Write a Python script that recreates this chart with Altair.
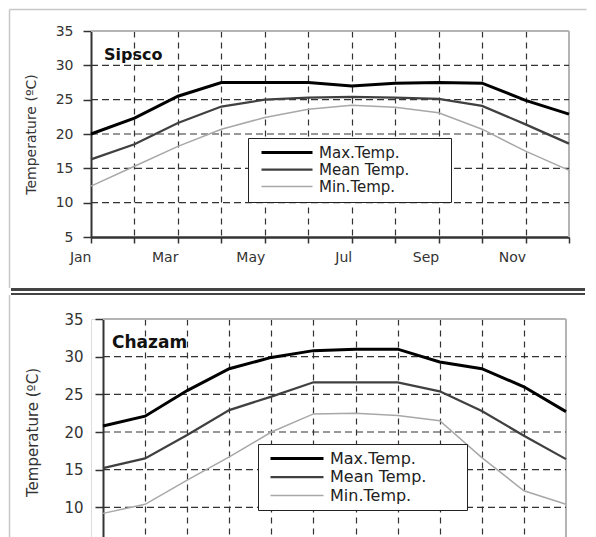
import altair as alt
import pandas as pd

months = ["Jan", "Feb", "Mar", "Apr", "May", "Jun", "Jul", "Aug", "Sep", "Oct", "Nov", "Dec"]
series = ["Max.Temp.", "Mean Temp.", "Min.Temp."]
y_ticks = [5, 10, 15, 20, 25, 30, 35]

sipsco_max = [20.0, 22.3, 25.5, 27.5, 27.5, 27.5, 27.0, 27.4, 27.5, 27.4, 24.9, 22.9]
sipsco_mean = [16.3, 18.5, 21.6, 24.0, 25.0, 25.3, 25.4, 25.3, 25.1, 24.1, 21.4, 18.6]
sipsco_min = [12.4, 15.3, 18.2, 20.7, 22.4, 23.6, 24.2, 23.9, 23.1, 20.7, 17.5, 14.7]

chazam_max = [20.8, 22.1, 25.5, 28.4, 29.9, 30.8, 31.0, 31.0, 29.3, 28.4, 26.0, 22.7]
chazam_mean = [15.2, 16.5, 19.6, 22.9, 24.7, 26.6, 26.6, 26.6, 25.4, 22.8, 19.5, 16.4]
chazam_min = [9.2, 10.4, 13.6, 16.7, 20.0, 22.4, 22.5, 22.2, 21.5, 16.6, 12.2, 10.4]

FONT = "DejaVu Sans"
INK = "#333333"
BORDER = "#b4b4b4"
FRAME = "#c8c8c8"
SEP = "#444444"
colors = ["#000000", "#404040", "#a8a8a8"]
widths = [3.0, 1.5, 1.5]

LEFT = 83      # common group origin inside the svg
RIGHT = 580    # svg width
EDGE_R = RIGHT - LEFT


def long_df(mx, me, mi):
    rows = []
    for s, vals in zip(series, [mx, me, mi]):
        for m, v in zip(months, vals):
            rows.append({"month": m, "temp": v, "series": s})
    return pd.DataFrame(rows)


shown = months[::2]
label_expr = "indexof(" + str(shown) + ", datum.value) >= 0 ? datum.label : ''"
edge_months = "datum.value == '" + months[0] + "' || datum.value == '" + months[-1] + "'"


def panel(name, df, w, h, x0, fs, tpad, lpad, name_pos, name_fs, leg, frame):
    legend = alt.Legend(
        orient="none", legendX=leg["x"], legendY=leg["y"],
        title=" ", titleOrient="right", titleFontSize=1, titlePadding=leg["extra"],
        strokeColor="#222222", fillColor="white", padding=leg["pad"],
        rowPadding=leg["row"], clipHeight=leg["clip"],
        symbolType="stroke", symbolSize=leg["sym"] ** 2,
        symbolOffset=leg["soff"], labelOffset=leg["loff"],
        labelFont=FONT, labelFontSize=leg["fs"], labelColor="#222222",
        labelLimit=300,
    )
    x = alt.X(
        "month:O", sort=months,
        scale=alt.Scale(type="point", padding=0, domain=months, range=[x0, w]),
        axis=alt.Axis(
            title=None, labelAngle=0, labelExpr=label_expr, labelOverlap=False,
            labelFont=FONT, labelFontSize=fs, labelColor=INK, labelPadding=14,
            tickSize=6, tickColor=INK, tickWidth=1.5,
            domainColor=INK, domainWidth=2.5,
            grid=True, gridColor=INK, gridDash=[6, 5], gridWidth=1.2,
            gridOpacity={"condition": {"test": edge_months, "value": 0}, "value": 1},
        ),
    )
    yscale = alt.Scale(domain=[y_ticks[0], y_ticks[-1]], nice=False, zero=False)
    yaxis = alt.Axis(
        values=y_ticks, title="Temperature (ºC)", titleFont=FONT, titleFontSize=fs,
        titleFontWeight="normal", titleColor=INK, titlePadding=tpad,
        labelFont=FONT, labelFontSize=fs, labelColor=INK, labelPadding=lpad,
        tickSize=8, tickColor=INK, tickWidth=1.5,
        domainColor=INK, domainWidth=2, grid=False, offset=-x0,
    )
    grid_df = pd.DataFrame({"temp": y_ticks[1:-1]})
    grid = alt.Chart(grid_df).mark_rule(color=INK, strokeWidth=1.2, strokeDash=[7, 4]).encode(
        y=alt.Y("temp:Q", scale=yscale, axis=yaxis),
        x=alt.datum(months[0]), x2=alt.datum(months[-1]),
    )
    lines = alt.Chart(df).mark_line().encode(
        x=x, y=alt.Y("temp:Q", scale=yscale, axis=yaxis),
        color=alt.Color("series:N", sort=series,
                        scale=alt.Scale(domain=series, range=colors), legend=legend),
        strokeWidth=alt.StrokeWidth("series:N", sort=series,
                                    scale=alt.Scale(domain=series, range=widths), legend=legend),
    )
    one = pd.DataFrame({"name": [name]})
    label = alt.Chart(one).mark_text(
        align="left", baseline="alphabetic", font=FONT, fontSize=name_fs,
        fontWeight="bold", color="#111111",
    ).encode(x=alt.value(name_pos[0]), y=alt.value(name_pos[1]), text="name:N")
    borders = [
        {"c": BORDER, "w": 2, "x": x0, "x2": w, "y": 0, "y2": 0},
        {"c": BORDER, "w": 2, "x": w, "x2": w, "y": 0, "y2": h},
    ]
    deco = []
    for f in borders + frame:
        deco.append(alt.Chart(one).mark_rule(color=f["c"], strokeWidth=f["w"]).encode(
            x=alt.value(f["x"]), x2=alt.value(f["x2"]),
            y=alt.value(f["y"]), y2=alt.value(f["y2"]),
        ))
    layers = [deco[0], deco[1], grid, lines, label] + deco[2:]
    return alt.layer(*layers).properties(width=w, height=h)


top = panel(
    "Sipsco", long_df(sipsco_max, sipsco_mean, sipsco_min), 478, 206, 0, 14, 17, 10,
    (13, 29), 16,
    {"x": 157, "y": 107, "pad": 7, "row": 1, "clip": 15, "sym": 51, "soff": 5,
     "loff": 5, "fs": 15, "extra": 35},
    [
        {"c": FRAME, "w": 1.5, "x": -LEFT + 1.5, "x2": EDGE_R - 1.5, "y": -21.5, "y2": -21.5},
        {"c": FRAME, "w": 1.5, "x": -LEFT + 1.5, "x2": -LEFT + 1.5, "y": -21.5, "y2": 257},
        {"c": SEP, "w": 3, "x": -LEFT + 3, "x2": EDGE_R - 3, "y": 258.5, "y2": 258.5},
    ],
)

bottom = panel(
    "Chazam", long_df(chazam_max, chazam_mean, chazam_min), 475, 226, 12, 15, 23, 12,
    (21, 29), 17,
    {"x": 167, "y": 125, "pad": 6, "row": 1.5, "clip": 17, "sym": 53, "soff": 5,
     "loff": 5, "fs": 16, "extra": 35},
    [
        {"c": SEP, "w": 2, "x": -LEFT + 3, "x2": EDGE_R - 3, "y": -25, "y2": -25},
        {"c": FRAME, "w": 1.5, "x": -LEFT + 1.5, "x2": -LEFT + 1.5, "y": -24, "y2": 300},
    ],
)

chart = alt.vconcat(top, bottom, spacing=0).resolve_scale(
    color="independent", strokeWidth="independent"
).resolve_legend(color="independent", strokeWidth="independent").properties(
    padding=0
).configure_view(stroke="transparent").configure(background="white")

chart.save("out.html", embed_options={"renderer": "svg", "actions": False})
